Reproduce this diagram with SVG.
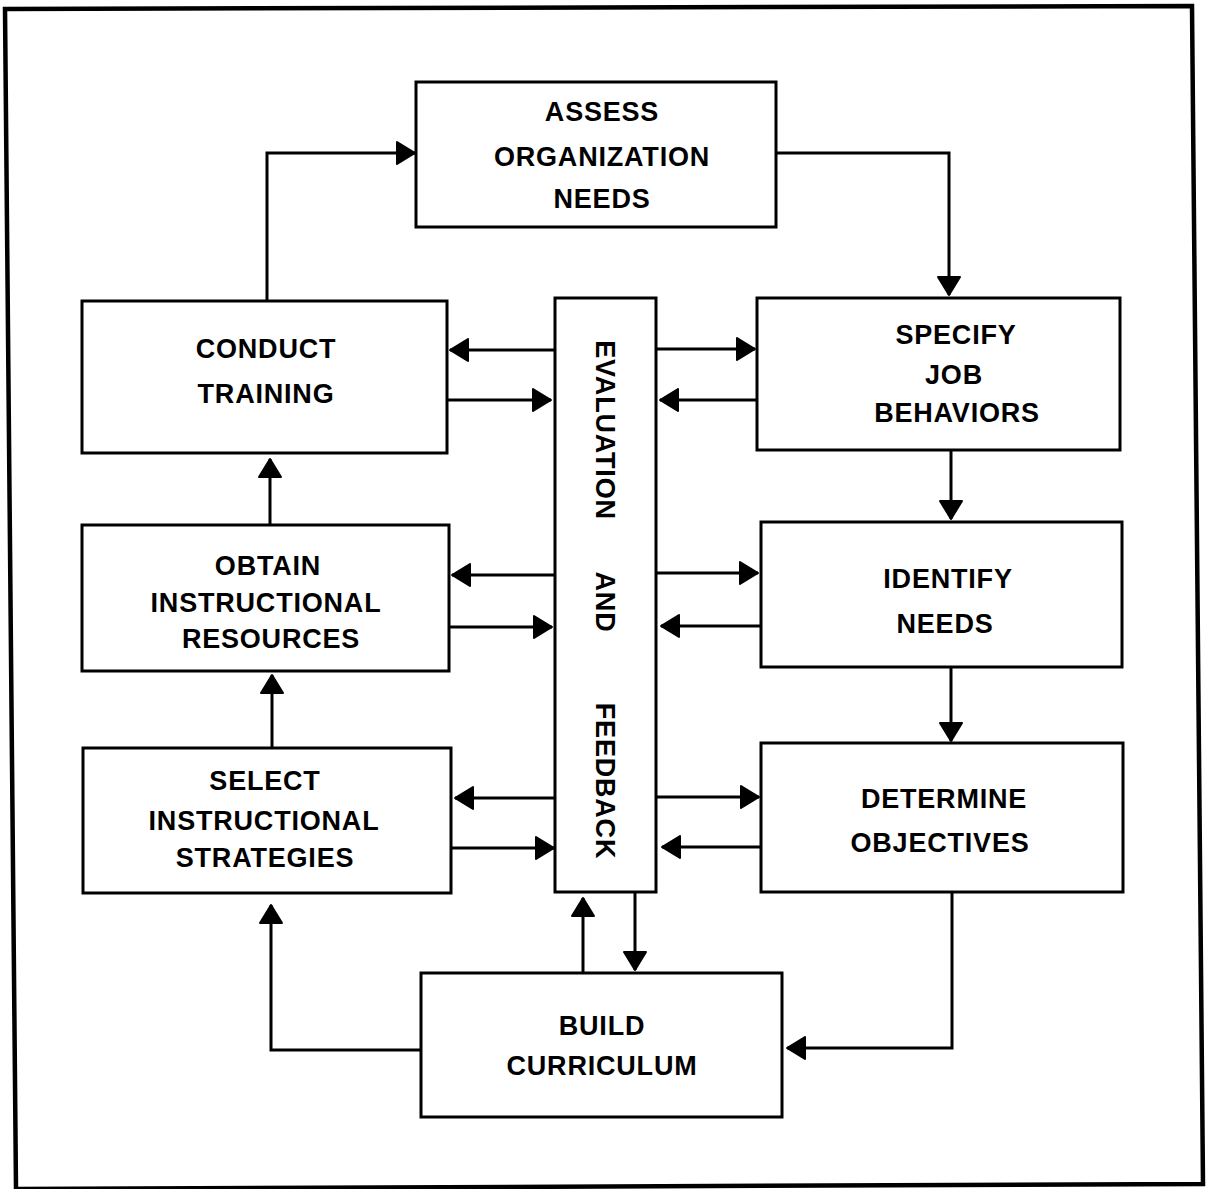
<svg xmlns="http://www.w3.org/2000/svg" width="1206" height="1189" viewBox="0 0 1206 1189">
<style>
.box{fill:#fff;stroke:#000;stroke-width:3}
.lbl{font-family:"Liberation Sans",Arial,sans-serif;font-weight:bold;font-size:27px;letter-spacing:0.8px;fill:#000;text-anchor:middle}
.c{fill:none;stroke:#000;stroke-width:3;marker-end:url(#ah)}
</style>
<defs>
<marker id="ah" viewBox="0 0 20 24" refX="19" refY="12" markerWidth="20" markerHeight="24" markerUnits="userSpaceOnUse" orient="auto">
<path d="M1,1 L19,12 L1,23 Z" fill="#000" stroke="#000" stroke-width="2" stroke-linejoin="round"/>
</marker>
</defs>
<rect width="1206" height="1189" fill="#fff"/>
<path d="M5,9 L1192,6 L1203,1184 L16,1189 Z" fill="none" stroke="#000" stroke-width="4.5"/>
<g id="connectors">
<path class="c" d="M267,300 V153 H415"/>
<path class="c" d="M776,153 H949 V295"/>
<path class="c" d="M951,450 V519"/>
<path class="c" d="M951,667 V741"/>
<path class="c" d="M952,892 V1048 H787"/>
<path class="c" d="M421,1050 H271 V905"/>
<path class="c" d="M583,973 V898"/>
<path class="c" d="M635,892 V970"/>
<path class="c" d="M272,748 V675"/>
<path class="c" d="M270,525 V459"/>
<path class="c" d="M554,350 H450"/>
<path class="c" d="M447,400 H551"/>
<path class="c" d="M555,575 H452"/>
<path class="c" d="M449,627 H552"/>
<path class="c" d="M557,798 H455"/>
<path class="c" d="M451,848 H554"/>
<path class="c" d="M655,349 H755"/>
<path class="c" d="M757,400 H660"/>
<path class="c" d="M656,573 H758"/>
<path class="c" d="M761,626 H661"/>
<path class="c" d="M657,797 H759"/>
<path class="c" d="M761,847 H662"/>
</g>
<g id="assess">
<rect class="box" x="416" y="82" width="360" height="145"/>
<text class="lbl" x="602" y="121">ASSESS</text>
<text class="lbl" x="602" y="166">ORGANIZATION</text>
<text class="lbl" x="602" y="208">NEEDS</text>
</g>
<g id="conduct">
<rect class="box" x="82" y="301" width="365" height="152"/>
<text class="lbl" x="266" y="358">CONDUCT</text>
<text class="lbl" x="266" y="403">TRAINING</text>
</g>
<g id="obtain">
<rect class="box" x="82" y="525" width="367" height="146"/>
<text class="lbl" x="268" y="575">OBTAIN</text>
<text class="lbl" x="266" y="612">INSTRUCTIONAL</text>
<text class="lbl" x="271" y="648">RESOURCES</text>
</g>
<g id="select">
<rect class="box" x="83" y="748" width="368" height="145"/>
<text class="lbl" x="265" y="790">SELECT</text>
<text class="lbl" x="264" y="830">INSTRUCTIONAL</text>
<text class="lbl" x="265" y="867">STRATEGIES</text>
</g>
<g id="evaluation">
<rect class="box" x="555" y="298" width="101" height="594"/>
<text class="lbl" transform="translate(596,430) rotate(90)">EVALUATION</text>
<text class="lbl" transform="translate(596,602) rotate(90)">AND</text>
<text class="lbl" transform="translate(596,781) rotate(90)">FEEDBACK</text>
</g>
<g id="specify">
<rect class="box" x="757" y="298" width="363" height="152"/>
<text class="lbl" x="956" y="344">SPECIFY</text>
<text class="lbl" x="954" y="384">JOB</text>
<text class="lbl" x="957" y="422">BEHAVIORS</text>
</g>
<g id="identify">
<rect class="box" x="761" y="522" width="361" height="145"/>
<text class="lbl" x="948" y="588">IDENTIFY</text>
<text class="lbl" x="945" y="633">NEEDS</text>
</g>
<g id="determine">
<rect class="box" x="761" y="743" width="362" height="149"/>
<text class="lbl" x="944" y="808">DETERMINE</text>
<text class="lbl" x="940" y="852">OBJECTIVES</text>
</g>
<g id="build">
<rect class="box" x="421" y="973" width="361" height="144"/>
<text class="lbl" x="602" y="1035">BUILD</text>
<text class="lbl" x="602" y="1075">CURRICULUM</text>
</g>
</svg>
